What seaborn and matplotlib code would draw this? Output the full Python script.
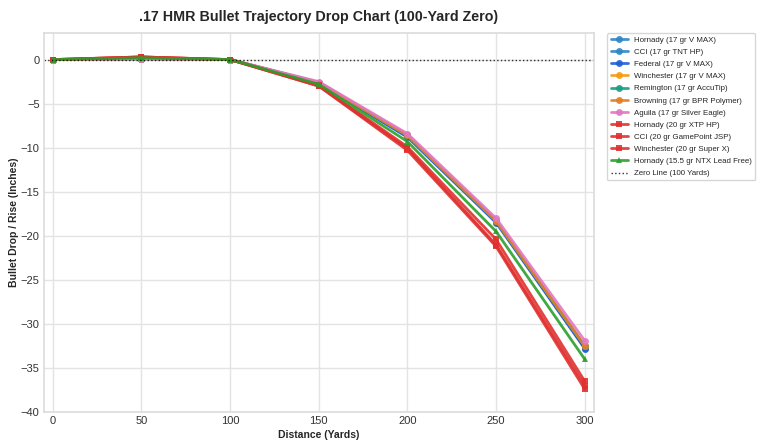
import numpy as np
import pandas as pd
import matplotlib
matplotlib.use("Agg")
import matplotlib.pyplot as plt
import seaborn as sns

sns.set_theme(style="whitegrid")
plt.rcParams["font.family"] = ["Liberation Sans", "DejaVu Sans"]
plt.rcParams["grid.color"] = "#e3e3e3"
plt.rcParams["axes.edgecolor"] = "#dddddd"

# Distances (yards)
distances = [0, 50, 100, 150, 200, 250, 300]

# Drop / rise in inches, 100-yard zero
hornady_17 = [0, 0.1, 0, -2.6, -8.6, -18.3, -32.6]
cci_17 = [0, 0.1, 0, -2.7, -8.7, -18.4, -32.7]
federal_17 = [0, 0.1, 0, -2.7, -8.8, -18.5, -32.8]
winchester_17 = [0, 0.1, 0, -2.6, -8.6, -18.3, -32.5]
remington_17 = [0, 0.1, 0, -2.6, -8.6, -18.3, -32.5]
browning_17 = [0, 0.1, 0, -2.6, -8.6, -18.3, -32.5]
aguila_17 = [0, 0.1, 0, -2.5, -8.4, -18.0, -31.9]
hornady_20 = [0, 0.3, 0, -3.0, -10.1, -21.0, -37.0]
cci_20 = [0, 0.3, 0, -2.9, -9.9, -20.4, -36.5]
winchester_20 = [0, 0.3, 0, -3.0, -10.3, -21.2, -37.4]
hornady_155 = [0, 0.2, 0, -2.8, -9.3, -19.5, -34.0]

labels = [
    "Hornady (17 gr V MAX)",
    "CCI (17 gr TNT HP)",
    "Federal (17 gr V MAX)",
    "Winchester (17 gr V MAX)",
    "Remington (17 gr AccuTip)",
    "Browning (17 gr BPR Polymer)",
    "Aguila (17 gr Silver Eagle)",
    "Hornady (20 gr XTP HP)",
    "CCI (20 gr GamePoint JSP)",
    "Winchester (20 gr Super X)",
    "Hornady (15.5 gr NTX Lead Free)",
]
series = [hornady_17, cci_17, federal_17, winchester_17, remington_17, browning_17,
          aguila_17, hornady_20, cci_20, winchester_20, hornady_155]
colors = ["#2f86c4", "#2f86c4", "#1f5fd6", "#f39c12", "#16a085", "#e67e22",
          "#e377c2", "#e0312f", "#e0312f", "#e0312f", "#2ca02c"]
markers = ["o"] * 7 + ["s"] * 3 + ["^"]

fig = plt.figure(figsize=(7.68, 4.48), dpi=100)
ax = fig.add_axes([0.057, 0.080, 0.716, 0.846])

for lab, vals, col, mk in zip(labels, series, colors, markers):
    df = pd.DataFrame({"Distance": distances, "Drop": vals})
    sns.lineplot(data=df, x="Distance", y="Drop", ax=ax, color=col, marker=mk,
                 markersize=5, markeredgewidth=0, linewidth=2, alpha=0.9, label=lab)

ax.axhline(0, color="black", linestyle=":", linewidth=1, alpha=0.8, label="Zero Line (100 Yards)")

ax.set_xlim(-5, 305)
ax.set_ylim(-40, 3)
ax.set_xticks(distances)
ax.tick_params(labelsize=8, length=0, pad=3, colors="#333333")
ax.set_title(".17 HMR Bullet Trajectory Drop Chart (100-Yard Zero)", fontsize=10.3, fontweight="bold", pad=9)
ax.set_xlabel("Distance (Yards)", fontsize=7.5, fontweight="bold", labelpad=3)
ax.set_ylabel("Bullet Drop / Rise (Inches)", fontsize=7.5, fontweight="bold", labelpad=1)
ax.legend(loc="upper left", bbox_to_anchor=(1.025, 1.0), fontsize=5.7, frameon=True,
          borderaxespad=0, handlelength=2.2, labelspacing=0.58)

fig.savefig("out.png", dpi=100)
